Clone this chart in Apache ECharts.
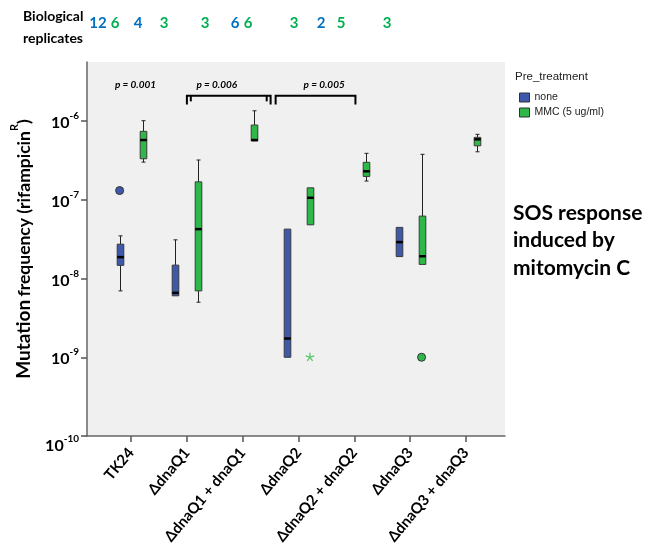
<!DOCTYPE html>
<html><head><meta charset="utf-8">
<script src="https://cdn.jsdelivr.net/npm/echarts@6/dist/echarts.min.js"></script>
<style>html,body{margin:0;padding:0;background:#fff}#c{width:649px;height:558px}</style>
</head><body><div id="c"></div>
<script>
// ---------- data ----------
const categories = ['TK24', '\u0394dnaQ1', '\u0394dnaQ1 + dnaQ1', '\u0394dnaQ2', '\u0394dnaQ2 + dnaQ2', '\u0394dnaQ3', '\u0394dnaQ3 + dnaQ3'];
// [min, Q1, median, Q3, max] per category; null = group not measured
const noneBoxes = [
  [6.97e-9, 1.47e-8, 1.87e-8, 2.73e-8, 3.48e-8],
  [6.03e-9, 6.03e-9, 6.58e-9, 1.48e-8, 3.10e-8],
  null,
  [1.00e-9, 1.00e-9, 1.73e-9, 4.24e-8, 4.24e-8],
  null,
  [1.90e-8, 1.90e-8, 2.90e-8, 4.46e-8, 4.46e-8],
  null
];
const mmcBoxes = [
  [3.01e-7, 3.32e-7, 5.74e-7, 7.40e-7, 1.01e-6],
  [5.00e-9, 6.97e-9, 4.24e-8, 1.69e-7, 3.20e-7],
  [5.60e-7, 5.60e-7, 5.74e-7, 8.90e-7, 1.35e-6],
  [4.81e-8, 4.81e-8, 1.06e-7, 1.42e-7, 1.42e-7],
  [1.73e-7, 1.98e-7, 2.30e-7, 2.99e-7, 3.89e-7],
  [1.51e-8, 1.51e-8, 1.92e-8, 6.21e-8, 3.78e-7],
  [4.07e-7, 4.85e-7, 5.86e-7, 6.21e-7, 6.78e-7]
];
// [category index, value]
const noneOutliers = [[0, 1.31e-7]];
const mmcOutliers = [[5, 1.0e-9]];
const mmcExtremes = [[3, 1.0e-9]];
const replicatesNone = [12, 4, null, 6, null, 2, null];
const replicatesMmc = [6, 3, 3, 6, 3, 5, 3];
const pLabels = ['p = 0.001', 'p = 0.006', 'p = 0.005'];
const seriesNames = ['none', 'MMC (5 ug/ml)'];
const yTickValues = [1e-10, 1e-9, 1e-8, 1e-7, 1e-6];

// ---------- style ----------
const BLUE = '#3E58AC', GREEN = '#2EB848';
const NUM_BLUE = '#0070C0', NUM_GREEN = '#00B050';
const OFF = 0.205; // side offset of each group within a category
const FONT = 'Lato';

function boxSeries(name, boxes, offset, color) {
  const data = [];
  boxes.forEach((b, i) => { if (b) data.push([i].concat(b)); });
  return {
    type: 'custom', name: name, data: data,
    encode: { x: 0, y: [1, 2, 3, 4, 5] },
    itemStyle: { color: color },
    z: 3,
    renderItem: function (params, api) {
      const i = api.value(0);
      const v = [1, 2, 3, 4, 5].map(d => api.value(d));
      const cx = Math.round(api.coord([i + offset, v[2]])[0]) + 0.5;
      const y = v.map(val => api.coord([i + offset, val])[1]);
      const hw = 3.3, cap = 2;
      const wl = { stroke: '#222', lineWidth: 1 };
      const ch = [];
      if (y[4] < y[3] - 0.5) {
        ch.push({ type: 'line', shape: { x1: cx, y1: y[3], x2: cx, y2: y[4] }, style: wl });
        ch.push({ type: 'line', shape: { x1: cx - cap, y1: y[4], x2: cx + cap, y2: y[4] }, style: wl });
      }
      if (y[0] > y[1] + 0.5) {
        ch.push({ type: 'line', shape: { x1: cx, y1: y[1], x2: cx, y2: y[0] }, style: wl });
        ch.push({ type: 'line', shape: { x1: cx - cap, y1: y[0], x2: cx + cap, y2: y[0] }, style: wl });
      }
      ch.push({ type: 'rect', shape: { x: cx - hw, y: y[3], width: 2 * hw, height: Math.max(y[1] - y[3], 1) },
        style: { fill: color, stroke: '#3a3a3a', lineWidth: 1 } });
      ch.push({ type: 'line', shape: { x1: cx - hw, y1: y[2], x2: cx + hw, y2: y[2] }, style: { stroke: '#000', lineWidth: 2.5 } });
      return { type: 'group', children: ch };
    }
  };
}

function outlierSeries(name, pts, offset, color, star) {
  return {
    type: 'custom', name: name, data: pts,
    encode: { x: 0, y: 1 }, z: 4,
    itemStyle: { color: color },
    renderItem: function (params, api) {
      const p = api.coord([api.value(0) + offset, api.value(1)]);
      if (star) {
        const r = 4.5, ch = [];
        for (let k = 0; k < 5; k++) {
          const a = -Math.PI / 2 + k * 2 * Math.PI / 5;
          ch.push({ type: 'line', shape: { x1: p[0], y1: p[1], x2: p[0] + r * Math.cos(a), y2: p[1] + r * Math.sin(a) },
            style: { stroke: '#4CC45C', lineWidth: 1.2 } });
        }
        return { type: 'group', children: ch };
      }
      return { type: 'circle', shape: { cx: p[0], cy: p[1], r: 4 }, style: { fill: color, stroke: '#333', lineWidth: 1 } };
    }
  };
}

const chart = echarts.init(document.getElementById('c'), null, { renderer: 'canvas' });
const yMax = Math.pow(10, -5.25);

const catIdx = categories.map((c, i) => i);

chart.setOption({
  animation: false,
  backgroundColor: '#fff',
  grid: { left: 87, right: 144, top: 62, bottom: 122, show: true, backgroundColor: '#F0F0F0', borderWidth: 0 },
  xAxis: {
    type: 'value', min: -0.79, max: 6.70,
    splitLine: { show: false },
    axisLine: { show: true, onZero: false, lineStyle: { color: '#666', width: 1.5 } },
    axisTick: { show: true, length: 6, customValues: catIdx, lineStyle: { color: '#555', width: 1.5 } },
    axisLabel: {
      customValues: catIdx, rotate: 50, margin: 14,
      formatter: v => categories[Math.round(v)] || '',
      fontFamily: FONT, fontWeight: 'bold', fontSize: 15, color: '#000'
    }
  },
  yAxis: {
    type: 'log', logBase: 10, min: 1e-10, max: yMax,
    splitLine: { show: false },
    axisLine: { show: true, onZero: false, lineStyle: { color: '#666', width: 1.5 } },
    axisTick: { show: true, length: 6, customValues: yTickValues, lineStyle: { color: '#555', width: 1.5 } },
    axisLabel: {
      margin: 8,
      formatter: function (v) {
        const e = Math.log10(v), r = Math.round(e);
        if (Math.abs(e - r) > 1e-6) return '';
        if (r === -10) return '{sp| }\n{b|10}{s|' + r + '}';
        return '{b|10}{s|' + r + '}';
      },
      rich: {
        b: { fontFamily: FONT, fontWeight: 'bold', fontSize: 16, color: '#000', lineHeight: 20, verticalAlign: 'bottom' },
        s: { fontFamily: FONT, fontWeight: 'bold', fontSize: 10, color: '#000', lineHeight: 12, verticalAlign: 'top' },
        sp: { fontSize: 8, lineHeight: 15 }
      }
    },
    name: '{m|Mutation} {f|frequency (rifampicin}{r|R}{f|)}',
    nameLocation: 'middle', nameRotate: 90, nameGap: 54,
    nameTextStyle: {
      rich: {
        m: { fontFamily: FONT, fontWeight: 'bold', fontSize: 19, color: '#000', lineHeight: 24, verticalAlign: 'bottom' },
        f: { fontFamily: FONT, fontWeight: 'bold', fontSize: 17.5, color: '#000', lineHeight: 24, verticalAlign: 'bottom' },
        r: { fontFamily: FONT, fontWeight: 'bold', fontSize: 11, color: '#000', lineHeight: 13, verticalAlign: 'top' }
      }
    }
  },
  legend: {
    orient: 'vertical', left: 514, top: 87, itemWidth: 10, itemHeight: 9, itemGap: 4,
    data: [{ name: seriesNames[0], icon: 'rect' }, { name: seriesNames[1], icon: 'rect' }],
    itemStyle: { borderColor: '#333', borderWidth: 1 },
    textStyle: { fontFamily: 'Liberation Sans', fontSize: 10.5, color: '#222' },
    selectedMode: false
  },
  series: [
    boxSeries(seriesNames[0], noneBoxes, -OFF, BLUE),
    boxSeries(seriesNames[1], mmcBoxes, OFF, GREEN),
    outlierSeries('none outliers', noneOutliers, -OFF, BLUE, false),
    outlierSeries('MMC outliers', mmcOutliers, OFF, GREEN, false),
    outlierSeries('MMC extremes', mmcExtremes, OFF, GREEN, true)
  ]
});

// ---------- annotations ----------
const px = (x, y) => chart.convertToPixel({ gridIndex: 0 }, [x, y]);
const yText = Math.pow(10, -5.54), yTop = Math.pow(10, -5.68), yBot = Math.pow(10, -5.79), yBotS = Math.pow(10, -5.75);
const pTextX = [0.08, 1.535, 3.46];
const g = [];
pLabels.forEach((t, k) => {
  const p = px(pTextX[k], yText);
  g.push({ type: 'text', x: p[0], y: p[1], style: { text: t, font: 'italic bold 10px ' + FONT, fill: '#000', align: 'center', verticalAlign: 'middle' } });
});
function bracket(x1, x2, inner1, inner2) {
  const a = px(x1, yTop), b = px(x2, yTop), ab = px(x1, yBot), bb = px(x2, yBot);
  const st = { stroke: '#000', lineWidth: 2 };
  g.push({ type: 'polyline', shape: { points: [[ab[0], ab[1]], [a[0], a[1]], [b[0], b[1]], [bb[0], bb[1]]] }, style: Object.assign({ fill: null }, st) });
  [inner1, inner2].forEach(xx => {
    if (xx == null) return;
    const t = px(xx, yTop), u = px(xx, yBotS);
    g.push({ type: 'line', shape: { x1: t[0], y1: t[1], x2: u[0], y2: u[1] }, style: st });
  });
}
bracket(1.0, 2.50, 1.07, 2.43);
bracket(2.59, 4.02, null, null);

// header
g.push({ type: 'text', x: 23, y: 5, style: { text: 'Biological\nreplicates', font: 'bold 14px ' + FONT, fill: '#000', lineHeight: 22, verticalAlign: 'top' } });
const repX = [[98, 115], [138, 164], [null, 205], [235, 248], [null, 294], [321, 341], [null, 387]];
categories.forEach((c, i) => {
  if (replicatesNone[i] != null) g.push({ type: 'text', x: repX[i][0], y: 23, style: { text: String(replicatesNone[i]), font: 'bold 15px ' + FONT, fill: NUM_BLUE, align: 'center', verticalAlign: 'middle' } });
  if (replicatesMmc[i] != null) g.push({ type: 'text', x: repX[i][1], y: 23, style: { text: String(replicatesMmc[i]), font: 'bold 15px ' + FONT, fill: NUM_GREEN, align: 'center', verticalAlign: 'middle' } });
});
// legend title
g.push({ type: 'text', x: 515, y: 77, style: { text: 'Pre_treatment', font: '11.5px "Liberation Sans"', fill: '#222', verticalAlign: 'middle' } });
// side note
g.push({ type: 'text', x: 513, y: 199, style: { text: 'SOS response\ninduced by\nmitomycin C', font: 'bold 21px ' + FONT, fill: '#000', lineHeight: 27.5, verticalAlign: 'top' } });

chart.setOption({ graphic: g });
</script></body></html>
